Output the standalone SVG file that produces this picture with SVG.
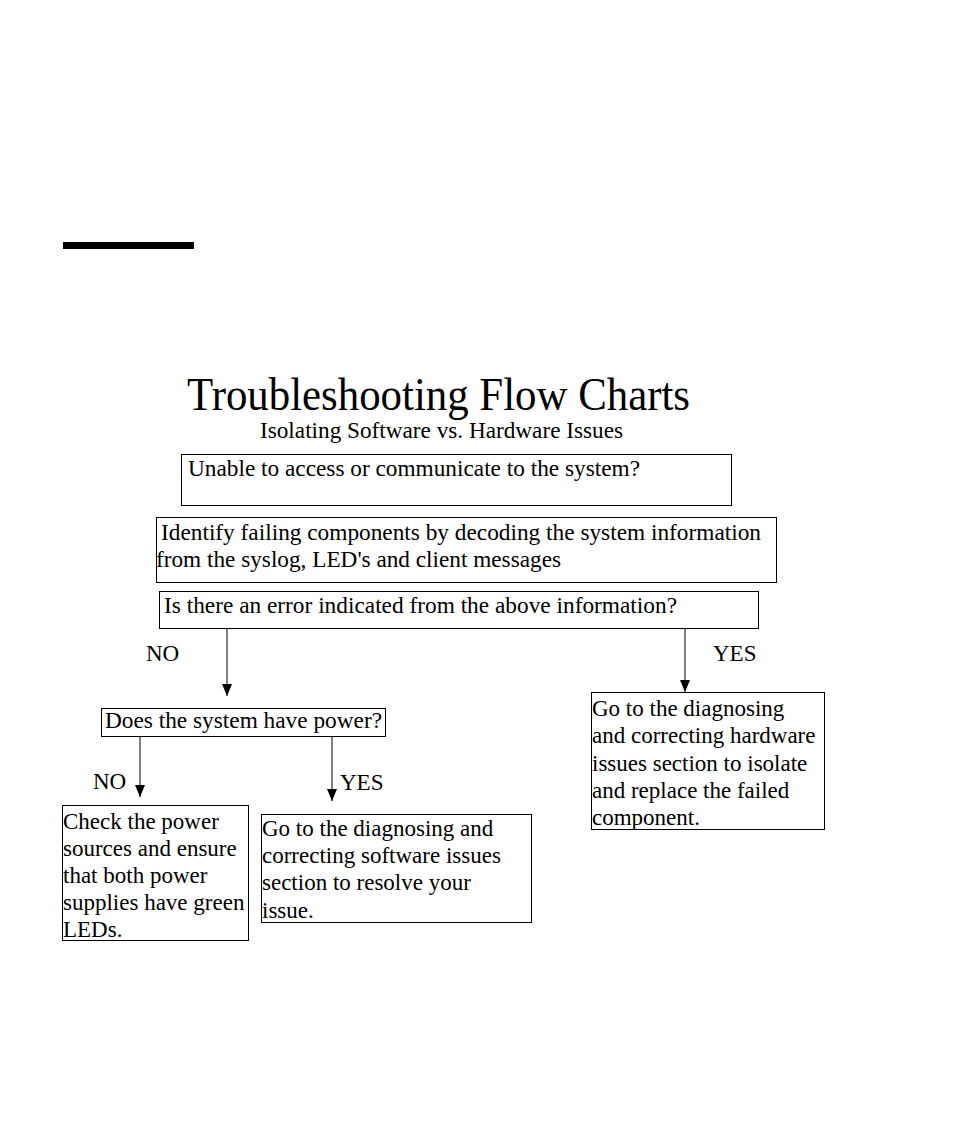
<svg xmlns="http://www.w3.org/2000/svg" width="954" height="1145" viewBox="0 0 954 1145">
<defs>
<style>
.t{font-family:"Liberation Serif","Times New Roman",serif;fill:#000;font-size:23px}
.h{font-size:46px}
.b{fill:none;stroke:#000;stroke-width:1}
.c{stroke:#000;stroke-width:1;fill:none}
</style>
<marker id="ah" markerWidth="12" markerHeight="10" refX="12" refY="5" orient="auto" markerUnits="userSpaceOnUse" viewBox="0 0 12 10">
<path d="M0,0 L12,5 L0,10 Z" fill="#000"/>
</marker>
</defs>
<rect width="954" height="1145" fill="#fff"/>
<rect x="63" y="242" width="131" height="7" fill="#000"/>
<g id="title">
<text class="t h" x="187" y="410" textLength="503" lengthAdjust="spacingAndGlyphs">Troubleshooting Flow Charts</text>
<text class="t" x="260" y="438" textLength="363" lengthAdjust="spacingAndGlyphs">Isolating Software vs. Hardware Issues</text>
</g>
<g id="connectors">
<line class="c" x1="227" y1="628" x2="227" y2="696" marker-end="url(#ah)"/>
<line class="c" x1="685" y1="628" x2="685" y2="692" marker-end="url(#ah)"/>
<line class="c" x1="140" y1="736" x2="140" y2="797" marker-end="url(#ah)"/>
<line class="c" x1="332" y1="736" x2="332" y2="801" marker-end="url(#ah)"/>
<text class="t" x="146" y="661">NO</text>
<text class="t" x="713" y="661">YES</text>
<text class="t" x="93" y="789">NO</text>
<text class="t" x="340" y="790">YES</text>
</g>
<g id="n1">
<rect class="b" x="181.5" y="454.5" width="550" height="51"/>
<text class="t" x="188" y="476" textLength="452" lengthAdjust="spacingAndGlyphs">Unable to access or communicate to the system?</text>
</g>
<g id="n2">
<rect class="b" x="156.5" y="517.5" width="620" height="65"/>
<text class="t" x="161" y="540" textLength="600" lengthAdjust="spacingAndGlyphs">Identify failing components by decoding the system information</text>
<text class="t" x="156" y="567" textLength="405" lengthAdjust="spacingAndGlyphs">from the syslog, LED's and client messages</text>
</g>
<g id="n3">
<rect class="b" x="159.5" y="591.5" width="599" height="37"/>
<text class="t" x="164" y="613" textLength="513" lengthAdjust="spacingAndGlyphs">Is there an error indicated from the above information?</text>
</g>
<g id="n4">
<rect class="b" x="101.5" y="708.5" width="284" height="28"/>
<text class="t" x="105" y="728" textLength="277" lengthAdjust="spacingAndGlyphs">Does the system have power?</text>
</g>
<g id="n5">
<rect class="b" x="62.5" y="805.5" width="186" height="135"/>
<text class="t" x="63" y="829">Check the power</text>
<text class="t" x="63" y="856">sources and ensure</text>
<text class="t" x="63" y="883">that both power</text>
<text class="t" x="63" y="910">supplies have green</text>
<text class="t" x="63" y="937">LEDs.</text>
</g>
<g id="n6">
<rect class="b" x="261.5" y="814.5" width="270" height="108"/>
<text class="t" x="262" y="836">Go to the diagnosing and</text>
<text class="t" x="262" y="863">correcting software issues</text>
<text class="t" x="262" y="890">section to resolve your</text>
<text class="t" x="262" y="918">issue.</text>
</g>
<g id="n7">
<rect class="b" x="591.5" y="692.5" width="233" height="137"/>
<text class="t" x="592" y="716">Go to the diagnosing</text>
<text class="t" x="592" y="743">and correcting hardware</text>
<text class="t" x="592" y="771">issues section to isolate</text>
<text class="t" x="592" y="798">and replace the failed</text>
<text class="t" x="592" y="825">component.</text>
</g>
</svg>
